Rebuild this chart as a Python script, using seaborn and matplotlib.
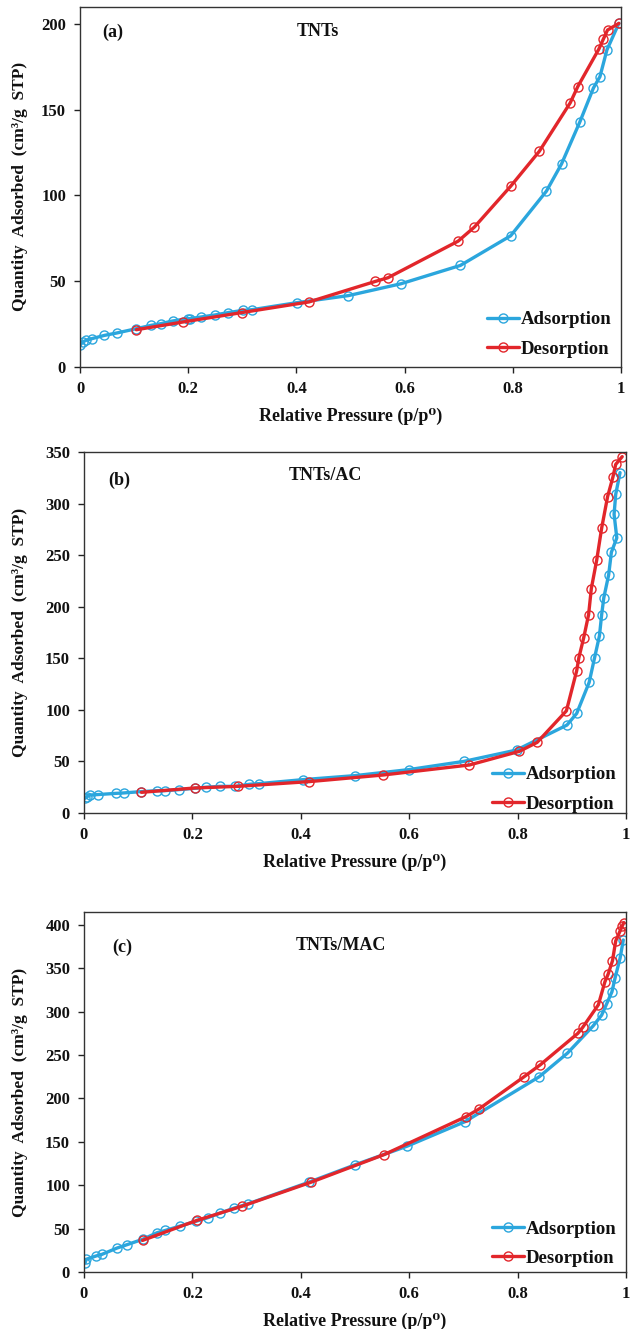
import matplotlib
matplotlib.use("Agg")
import matplotlib.pyplot as plt
import seaborn as sns
import pandas as pd

# ---------------- data ----------------
# (a) TNTs
a_ads_x = [0.0, 0.005, 0.011, 0.022, 0.045, 0.068, 0.104, 0.132, 0.149, 0.171, 0.199, 0.204,
           0.223, 0.249, 0.274, 0.301, 0.318, 0.401, 0.496, 0.593, 0.703, 0.796, 0.862, 0.890,
           0.924, 0.949, 0.961, 0.974, 0.996]
a_ads_y = [12.6, 14.6, 15.5, 16.5, 18.4, 19.8, 22.3, 24.3, 25.2, 26.8, 28.2, 28.2,
           29.1, 30.3, 31.7, 33.0, 33.4, 37.5, 41.6, 48.5, 59.2, 76.5, 102.5, 118.4,
           143.0, 162.7, 169.3, 185.0, 200.4]
a_des_x = [0.996, 0.975, 0.967, 0.959, 0.920, 0.906, 0.849, 0.796, 0.729, 0.699, 0.569,
           0.546, 0.423, 0.299, 0.190, 0.104]
a_des_y = [200.4, 196.5, 191.0, 185.4, 163.5, 154.0, 125.8, 105.4, 81.6, 73.4, 52.0,
           49.9, 37.9, 31.7, 26.2, 21.7]

# (b) TNTs/AC
b_ads_x = [0.002, 0.006, 0.011, 0.025, 0.059, 0.073, 0.106, 0.135, 0.149, 0.175, 0.204, 0.225,
           0.251, 0.279, 0.305, 0.322, 0.404, 0.500, 0.599, 0.701, 0.798, 0.891, 0.909, 0.932,
           0.942, 0.951, 0.955, 0.959, 0.968, 0.973, 0.983, 0.978, 0.981, 0.989]
b_ads_y = [14.2, 15.8, 17.4, 17.8, 19.0, 19.4, 20.7, 21.6, 21.6, 22.6, 23.9, 24.9,
           25.8, 25.8, 27.8, 28.4, 32.3, 36.2, 42.0, 50.0, 61.0, 85.2, 96.5, 126.6,
           150.5, 171.8, 192.0, 208.6, 230.9, 252.8, 266.7, 289.6, 309.0, 330.0]
b_des_x = [0.993, 0.981, 0.976, 0.966, 0.955, 0.946, 0.936, 0.931, 0.922, 0.913, 0.909,
           0.890, 0.836, 0.803, 0.711, 0.552, 0.416, 0.284, 0.204, 0.106]
b_des_y = [345.5, 338.0, 326.0, 306.7, 276.0, 245.4, 217.6, 192.4, 170.0, 150.5, 137.9,
           99.0, 68.4, 59.7, 46.5, 36.8, 30.4, 25.8, 24.2, 20.0]

# (c) TNTs/MAC
c_ads_x = [0.002, 0.004, 0.022, 0.033, 0.061, 0.079, 0.108, 0.135, 0.150, 0.177, 0.206, 0.228,
           0.251, 0.277, 0.303, 0.415, 0.500, 0.596, 0.703, 0.840, 0.892, 0.939, 0.955, 0.964,
           0.974, 0.980, 0.989, 0.995]
c_ads_y = [10.4, 14.6, 18.4, 20.3, 27.6, 31.4, 37.6, 45.3, 47.9, 52.9, 58.3, 62.5,
           67.9, 73.6, 78.6, 103.5, 123.5, 145.0, 173.3, 225.1, 252.3, 283.4, 296.0, 308.7,
           322.9, 339.4, 361.6, 382.7]
c_des_x = [0.996, 0.993, 0.989, 0.981, 0.975, 0.967, 0.961, 0.949, 0.920, 0.911, 0.842,
           0.812, 0.729, 0.705, 0.554, 0.419, 0.292, 0.208, 0.108]
c_des_y = [402.7, 398.8, 393.0, 381.6, 358.6, 343.3, 334.4, 308.0, 281.9, 275.0, 238.9,
           225.1, 188.0, 179.1, 135.4, 103.5, 75.9, 59.4, 36.4]

panel_tags = ["(a)", "(b)", "(c)"]
panel_titles = ["TNTs", "TNTs/AC", "TNTs/MAC"]
series_names = ["Adsorption", "Desorption"]
y_max = [210, 350, 415]
y_ticks = [[0, 50, 100, 150, 200],
           [0, 50, 100, 150, 200, 250, 300, 350],
           [0, 50, 100, 150, 200, 250, 300, 350, 400]]
x_ticks = [0, 0.2, 0.4, 0.6, 0.8, 1]
x_ticklabels = ["0", "0.2", "0.4", "0.6", "0.8", "1"]
x_label = "Relative Pressure (p/p\u2070)"
y_label = "Quantity  Adsorbed  (cm\u00b3/g  STP)"

panels = [
    (a_ads_x, a_ads_y, a_des_x, a_des_y),
    (b_ads_x, b_ads_y, b_des_x, b_des_y),
    (c_ads_x, c_ads_y, c_des_x, c_des_y),
]

# ---------------- style ----------------
sns.set_theme(style="ticks")
plt.rcParams["font.family"] = ["Liberation Serif", "DejaVu Serif"]
plt.rcParams["font.weight"] = "bold"

BLUE = "#2BA6DD"
RED = "#E2262B"
colors = [BLUE, RED]

fig = plt.figure(figsize=(6.31, 13.29), dpi=100)
axes_rects = [
    [0.1268, 0.7239, 0.8574, 0.2709],
    [0.1331, 0.3883, 0.8590, 0.2716],
    [0.1331, 0.0429, 0.8590, 0.2709],
]
tag_pos = [(0.041, 0.930), (0.044, 0.922), (0.052, 0.903)]
title_pos = [(0.44, 0.932), (0.445, 0.936), (0.474, 0.906)]
ylab_x = [-0.096, -0.103, -0.103]
legend_anchor = [(1.0, 0.0), (1.0, -0.025), (1.0, -0.012)]

for i, (ax_x, ax_y, de_x, de_y) in enumerate(panels):
    ax = fig.add_axes(axes_rects[i])
    df_a = pd.DataFrame({"x": ax_x, "y": ax_y})
    df_d = pd.DataFrame({"x": de_x, "y": de_y})
    for df, name, col in [(df_a, series_names[0], colors[0]), (df_d, series_names[1], colors[1])]:
        sns.lineplot(data=df, x="x", y="y", sort=False, ax=ax, color=col, lw=2.4,
                     marker="o", markersize=6.5, markerfacecolor="none",
                     markeredgecolor=col, markeredgewidth=1.0, label=name,
                     estimator=None)
    ax.set_xlim(0, 1)
    ax.set_ylim(0, y_max[i])
    ax.set_xticks(x_ticks)
    ax.set_xticklabels(x_ticklabels)
    ax.set_yticks(y_ticks[i])
    ax.tick_params(direction="out", length=4, width=1, colors="#222222",
                   labelsize=12, pad=6)
    for lab in ax.get_xticklabels() + ax.get_yticklabels():
        lab.set_fontweight("bold")
        lab.set_color("#111111")
    for sp in ax.spines.values():
        sp.set_visible(True)
        sp.set_linewidth(1.0)
        sp.set_color("#333333")
    ax.set_xlabel(x_label, fontsize=13, fontweight="bold", color="#111111", labelpad=8)
    ax.set_ylabel(y_label, fontsize=12.5, fontweight="bold", color="#111111")
    ax.yaxis.set_label_coords(ylab_x[i], 0.5)
    ax.text(*tag_pos[i], panel_tags[i], transform=ax.transAxes, fontsize=13,
            fontweight="bold", ha="left", va="center", color="#111111")
    ax.text(*title_pos[i], panel_titles[i], transform=ax.transAxes, fontsize=13,
            fontweight="bold", ha="center", va="center", color="#111111")
    leg = ax.legend(loc="lower right", bbox_to_anchor=legend_anchor[i], frameon=False,
                    handlelength=1.7, handletextpad=0.1,
                    borderaxespad=0.1, labelspacing=0.65,
                    prop={"family": ["Liberation Serif"], "weight": "bold", "size": 13.5})
    for t in leg.get_texts():
        t.set_color("#111111")

fig.savefig("out.png", dpi=100)
